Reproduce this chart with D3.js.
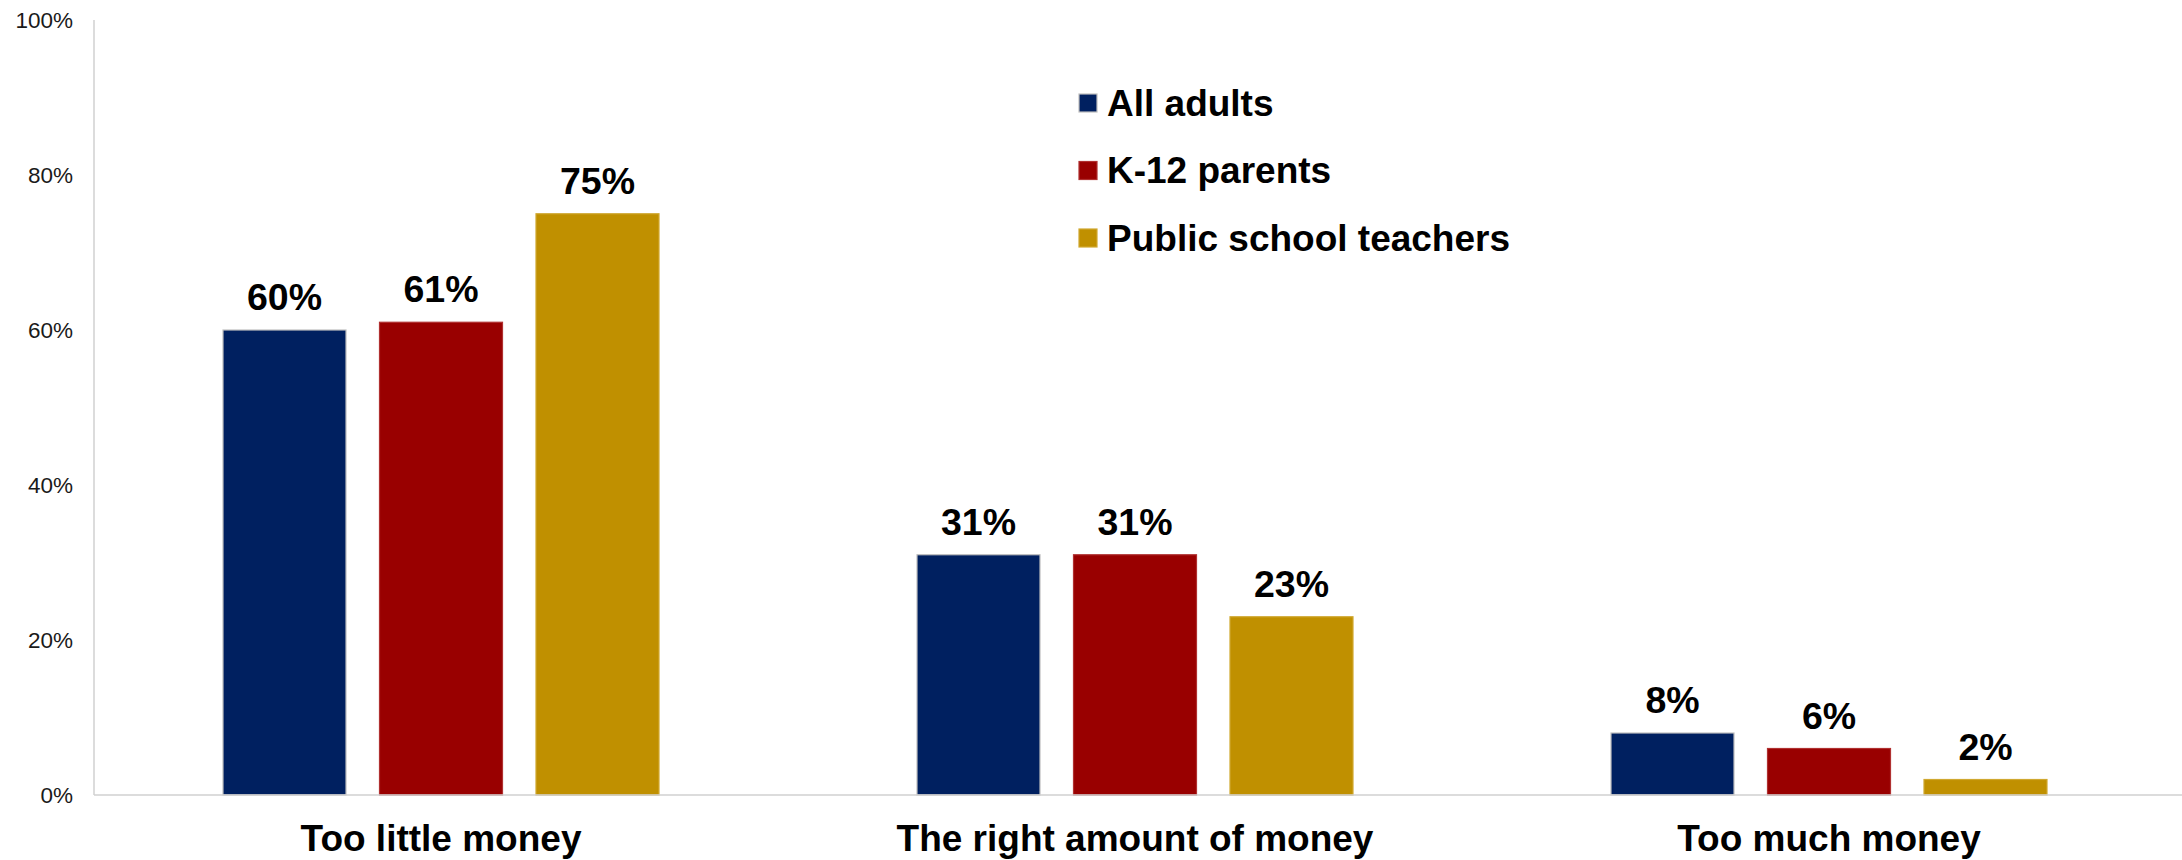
<!DOCTYPE html>
<html>
<head>
<meta charset="utf-8">
<script src="https://cdn.jsdelivr.net/npm/d3@7"></script>
<style>
  html, body { margin: 0; padding: 0; background: #ffffff; }
  svg { display: block; font-family: "Liberation Sans", Arial, sans-serif; }
</style>
</head>
<body>
<svg id="chart" width="2182" height="860"></svg>
<script>
// Opinions on school funding, by group
const categories = ["Too little money", "The right amount of money", "Too much money"];
const seriesNames = ["All adults", "K-12 parents", "Public school teachers"];
const allAdults = [60, 31, 8];
const k12Parents = [61, 31, 6];
const teachers = [75, 23, 2];
const yTicks = [0, 20, 40, 60, 80, 100];
const seriesColors = ["#002060", "#990000", "#C09000"];
const seriesStrokes = ["#bfbfbf", "#b03030", "#d0a830"];

(function () {
  const seriesValues = [allAdults, k12Parents, teachers];
  const rows = categories.map((c, i) => ({
    category: c,
    values: seriesNames.map((s, j) => ({ series: s, idx: j, value: seriesValues[j][i] }))
  }));

  const svg = d3.select("#chart");
  const W = 2182;
  const plotLeft = 94, plotTop = 20, plotBottom = 795, plotRight = 2176;

  const x0 = d3.scaleBand().domain(categories).range([plotLeft, plotRight]).padding(0);
  const x1 = d3.scaleBand().domain(seriesNames)
    .range([129, x0.bandwidth() - 129])
    .paddingInner(0.214).paddingOuter(0);
  const y = d3.scaleLinear().domain([0, 100]).range([plotBottom, plotTop]);

  // y axis labels
  const yAxis = d3.axisLeft(y).tickValues(yTicks).tickFormat(d => d + "%").tickSize(0).tickPadding(21);
  const gy = svg.append("g").attr("transform", `translate(${plotLeft},0)`).call(yAxis);
  gy.select(".domain").remove();
  gy.selectAll("text")
    .attr("font-size", 22.5)
    .attr("font-family", "Liberation Sans, Arial, sans-serif")
    .attr("fill", "#1a1a1a");

  // vertical axis line
  svg.append("line")
    .attr("x1", plotLeft).attr("x2", plotLeft)
    .attr("y1", y(100)).attr("y2", y(0))
    .attr("stroke", "#d0d0d0").attr("stroke-width", 1.5);

  // bars
  const groups = svg.append("g").selectAll("g")
    .data(rows).join("g")
    .attr("transform", d => `translate(${x0(d.category)},0)`);

  groups.selectAll("rect")
    .data(d => d.values).join("rect")
    .attr("x", d => x1(d.series))
    .attr("y", d => y(d.value))
    .attr("width", x1.bandwidth())
    .attr("height", d => y(0) - y(d.value))
    .attr("fill", d => seriesColors[d.idx])
    .attr("stroke", d => seriesStrokes[d.idx])
    .attr("stroke-width", 1.2);

  groups.selectAll("text.val")
    .data(d => d.values).join("text")
    .attr("class", "val")
    .attr("x", d => x1(d.series) + x1.bandwidth() / 2)
    .attr("y", d => y(d.value) - 20)
    .attr("text-anchor", "middle")
    .attr("font-size", 37.5)
    .attr("font-weight", "bold")
    .attr("fill", "#000")
    .text(d => d.value + "%");

  // zero line
  svg.append("line")
    .attr("x1", plotLeft).attr("x2", W)
    .attr("y1", y(0)).attr("y2", y(0))
    .attr("stroke", "#d0d0d0").attr("stroke-width", 1.5);

  // category labels
  const xAxis = d3.axisBottom(x0).tickSize(0).tickPadding(0);
  const gx = svg.append("g").attr("transform", `translate(0,${y(0)})`).call(xAxis);
  gx.select(".domain").remove();
  gx.selectAll("text")
    .attr("y", 56)
    .attr("dy", null)
    .attr("font-size", 37)
    .attr("font-weight", "bold")
    .attr("font-family", "Liberation Sans, Arial, sans-serif")
    .attr("fill", "#000");

  // legend
  const legend = svg.append("g").attr("transform", "translate(1079,0)");
  const legendRows = [103, 170.5, 238];
  const li = legend.selectAll("g").data(seriesNames).join("g")
    .attr("transform", (d, i) => `translate(0,${legendRows[i]})`);
  li.append("rect")
    .attr("x", 0).attr("y", -9).attr("width", 18).attr("height", 18)
    .attr("fill", (d, i) => seriesColors[i])
    .attr("stroke", (d, i) => seriesStrokes[i])
    .attr("stroke-width", 1.2);
  li.append("text")
    .attr("x", 28).attr("y", 12.5)
    .attr("font-size", 37)
    .attr("font-weight", "bold")
    .attr("fill", "#000")
    .text(d => d);
})();
</script>
</body>
</html>
